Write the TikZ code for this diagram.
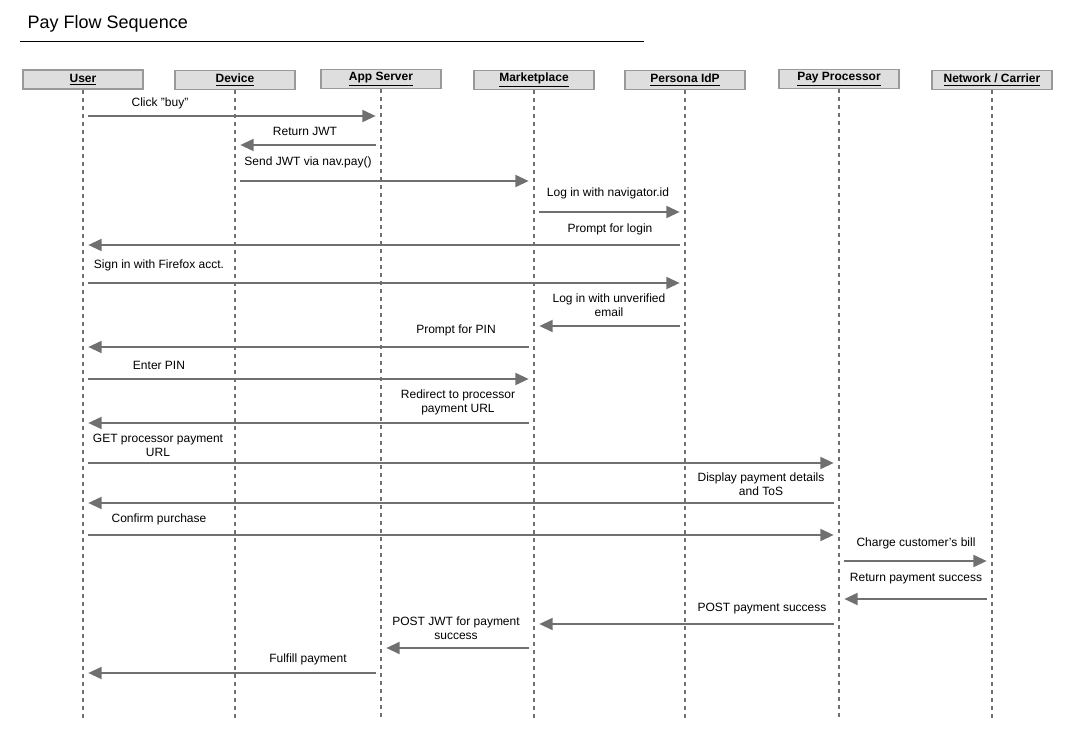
\documentclass[tikz,border=0pt]{standalone}
\usepackage{fontspec}
\setmainfont{Liberation Sans}
\usetikzlibrary{arrows.meta}
\definecolor{boxfill}{HTML}{DEDEDE}
\definecolor{boxline}{HTML}{999999}
\definecolor{arrowgray}{HTML}{707070}

\tikzset{
  actor/.style={draw=boxline, fill=boxfill, line width=1.2pt, minimum width=90pt, minimum height=14pt, inner sep=0pt, font=\fontsize{9}{10}\selectfont\bfseries},
  lifeline/.style={draw=arrowgray, dashed, line width=0.8pt},
  msg/.style={draw=arrowgray, line width=1.5pt, -{Triangle[length=10pt,width=9pt]}, shorten <=4pt, shorten >=4pt},
  lbl/.style={font=\fontsize{9}{10.5}\selectfont, align=center, inner sep=0pt}
}

% message: y, from, to, label x, label y, text
\newcommand{\msg}[6]{
  \draw[msg] (#2 |- 0,#1) -- (#3 |- 0,#1);
  \node[lbl] at (#4,#5) {#6};
}

\begin{document}
\begin{tikzpicture}[x=0.75pt, y=-0.75pt]

% bounding box
\useasboundingbox (0,0) rectangle (1072,741);

% title
\node[anchor=west, font=\fontsize{13.5}{15}\selectfont] (title) at (23,24) {Pay Flow Sequence};
\draw[line width=0.6pt] (20,41) -- (644,41);

% actors
\node[actor] (user) at (83,79.5) {\underline{User}};
\node[actor] (device) at (235,80) {\underline{Device}};
\node[actor] (app) at (381,79) {\underline{App Server}};
\node[actor] (market) at (534,80) {\underline{Marketplace}};
\node[actor] (persona) at (685,80) {\underline{Persona IdP}};
\node[actor] (payproc) at (839,79) {\underline{Pay Processor}};
\node[actor] (carrier) at (992,80) {\underline{Network / Carrier}};

% lifelines
\foreach \a in {user, device, app, market, persona, payproc, carrier}
  \draw[lifeline] (\a.south) -- (\a |- 0,718);

% messages
\msg{116}{user}{app}{160}{103}{Click "buy"}
\msg{145}{app}{device}{305}{131}{Return JWT}
\msg{181}{device}{market}{308}{162}{Send JWT via nav.pay()}
\msg{212}{market}{persona}{608}{193}{Log in with navigator.id}
\msg{245}{persona}{user}{610}{229}{Prompt for login}
\msg{283}{user}{persona}{159}{265}{Sign in with Firefox acct.}
\msg{326}{persona}{market}{609}{305}{Log in with unverified\\email}
\msg{347}{market}{user}{456}{330}{Prompt for PIN}
\msg{379}{user}{market}{159}{365}{Enter PIN}
\msg{423}{market}{user}{458}{402}{Redirect to processor\\payment URL}
\msg{463}{user}{payproc}{158}{445}{GET processor payment\\URL}
\msg{503}{payproc}{user}{761}{484}{Display payment details\\and ToS}
\msg{535}{user}{payproc}{159}{519}{Confirm purchase}
\msg{561}{payproc}{carrier}{916}{543}{Charge customer's bill}
\msg{599}{carrier}{payproc}{916}{579}{Return payment success}
\msg{624}{payproc}{market}{762}{609}{POST payment success}
\msg{648}{market}{app}{456}{628}{POST JWT for payment\\success}
\msg{673}{app}{user}{308}{659}{Fulfill payment}

\end{tikzpicture}
\end{document}
